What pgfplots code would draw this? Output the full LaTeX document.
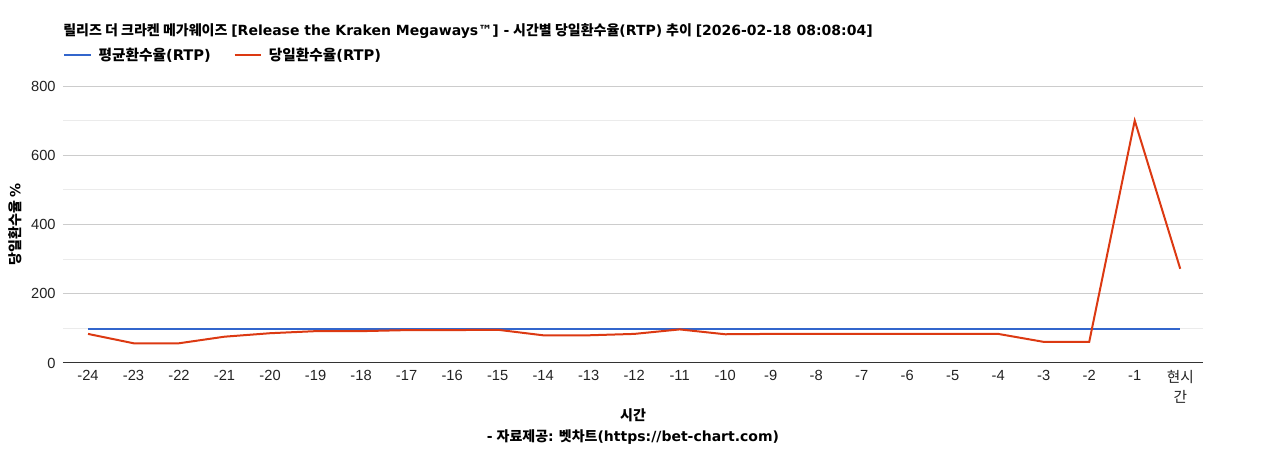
\documentclass[border=0pt]{standalone}
\usepackage{pgfplots}
\pgfplotsset{compat=1.18}
\usepackage{fontspec}
\setmainfont{Liberation Sans}
\newfontfamily\kr{Noto Sans CJK KR}
\newfontfamily\dv{DejaVu Sans}
\definecolor{cblue}{HTML}{3366CC}
\definecolor{cred}{HTML}{DC3912}
\definecolor{tick}{HTML}{222222}
\begin{document}
\begin{tikzpicture}
\path[use as bounding box] (0,0) rectangle (951pt,337.5pt);
\begin{axis}[
  at={(47.25pt,65.25pt)}, anchor=south west,
  scale only axis, width=855pt, height=207.75pt,
  xmin=-0.55, xmax=24.5, ymin=0, ymax=800,
  xtick={0,...,24},
  xticklabels={-24,-23,-22,-21,-20,-19,-18,-17,-16,-15,-14,-13,-12,-11,-10,-9,-8,-7,-6,-5,-4,-3,-2,-1,{\kr 현시\\\kr 간}},
  xticklabel style={align=center, font=\fontsize{11pt}{15pt}\selectfont, text=tick, yshift=-2pt},
  ytick={0,200,400,600,800},
  minor ytick={100,300,500,700},
  yticklabel style={font=\fontsize{11pt}{13pt}\selectfont, text=tick, xshift=-2pt},
  /pgf/number format/assume math mode=true,
  ymajorgrids, yminorgrids,
  major grid style={color=black!20, line width=0.75pt},
  minor grid style={color=black!8, line width=0.75pt},
  axis x line*=bottom, axis y line*=left,
  x axis line style={color=black!80, line width=0.75pt, -},
  y axis line style={draw=none},
  major tick length=0pt, minor tick length=0pt,
  tick style={draw=none},
  xlabel={\kr\bfseries 시간},
  xlabel style={at={(axis description cs:0.5,0)}, yshift=-39pt, anchor=center, font=\fontsize{10.5pt}{12pt}\selectfont},
  ylabel={\kr\bfseries 당일환수율 \dv\%},
  ylabel style={at={(axis description cs:-0.042,0.5)}, anchor=center, font=\fontsize{10.5pt}{12pt}\selectfont},
  legend columns=2,
  legend style={at={(axis description cs:0,1.112)}, anchor=west, draw=none, fill=none, inner sep=0pt,
    font=\fontsize{11pt}{12pt}\selectfont\bfseries,
    nodes={inner xsep=5pt},
    /tikz/every even column/.append style={column sep=12pt}},
  legend image code/.code={\draw[#1] (0pt,0pt) -- (20pt,0pt);},
  clip=false,
]
\addplot[cblue, line width=1.5pt, mark=none] coordinates {
(0,97)(1,97)(2,97)(3,97)(4,97)(5,97)(6,97)(7,97)(8,97)(9,97)(10,97)(11,97)(12,97)
(13,97)(14,97)(15,97)(16,97)(17,97)(18,97)(19,97)(20,97)(21,97)(22,97)(23,97)(24,97)};
\addlegendentry{{\kr 평균환수율}{\dv (RTP)}}
\addplot[cred, line width=1.5pt, mark=none] coordinates {
(0,84)(1,57)(2,57)(3,76)(4,86)(5,92)(6,92)(7,95)(8,95)(9,96)(10,80)(11,80)(12,84)
(13,97)(14,83)(15,84)(16,84)(17,84)(18,84)(19,84)(20,84)(21,61)(22,61)(23,700)(24,272)};
\addlegendentry{{\kr 당일환수율}{\dv (RTP)}}
\end{axis}
\node[anchor=west, inner sep=0pt, font=\fontsize{10.5pt}{12pt}\selectfont\bfseries] at (47.25pt,314.25pt)
  {{\kr 릴리즈 더 크라켄 메가웨이즈} {\dv [Release the Kraken Megaways™] -} {\kr 시간별 당일환수율}{\dv (RTP)} {\kr 추이} {\dv [2026-02-18 08:08:04]}};
\node[anchor=center, inner sep=0pt, font=\fontsize{10.5pt}{12pt}\selectfont\bfseries] at (474.75pt,9.75pt)
  {{\dv -} {\kr 자료제공}{\dv :} {\kr 벳차트}{\dv (https://bet-chart.com)}};
\end{tikzpicture}
\end{document}
